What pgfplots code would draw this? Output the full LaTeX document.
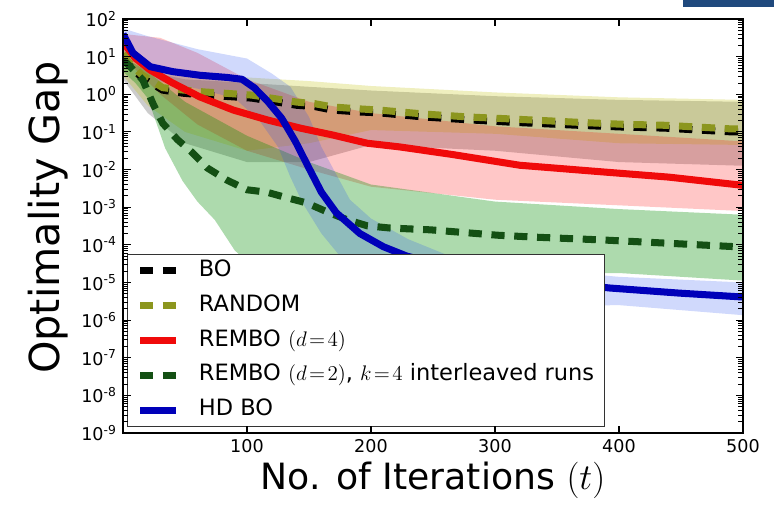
\documentclass[border=0pt]{standalone}
\usepackage{pgfplots}
\pgfplotsset{compat=1.18}
\usepgfplotslibrary{fillbetween}
\usepackage{fontspec}
\setmainfont{DejaVu Sans}
\definecolor{colive}{RGB}{140,150,30}
\definecolor{bolive}{RGB}{191,191,0}
\definecolor{cred}{RGB}{240,10,10}
\definecolor{cgreen}{RGB}{20,80,20}
\definecolor{bgreen}{RGB}{0,140,0}
\definecolor{cblue}{RGB}{0,0,185}
\definecolor{bblue}{RGB}{40,80,240}
\definecolor{slideblue}{RGB}{31,73,125}
\begin{document}
\begin{tikzpicture}
\begin{axis}[
  scale only axis, width=12.4cm, height=8.28cm, at={(0,0)}, anchor=south west,
  xmin=0, xmax=500, ymode=log, ymin=1e-9, ymax=1e2,
  xtick={100,200,300,400,500},
  ytick={1e-9,1e-8,1e-7,1e-6,1e-5,1e-4,1e-3,1e-2,1e-1,1e0,1e1,1e2},
  yticklabels={10\textsuperscript{-9},10\textsuperscript{-8},10\textsuperscript{-7},10\textsuperscript{-6},10\textsuperscript{-5},10\textsuperscript{-4},10\textsuperscript{-3},10\textsuperscript{-2},10\textsuperscript{-1},10\textsuperscript{0},10\textsuperscript{1},10\textsuperscript{2}},
  yminorticks=true,
  tick label style={font=\fontsize{10}{12}\selectfont},
  /pgf/number format/assume math mode=true,
  xlabel={No. of Iterations $(t)$},
  xlabel style={font=\fontsize{20.6}{24}\selectfont, at={(axis description cs:0.5,-0.1135)}, anchor=center},
  ylabel={Optimality Gap},
  ylabel style={font=\fontsize{23.5}{27}\selectfont, at={(axis description cs:-0.121,0.52)}, anchor=center},
  axis line style={line width=0.8pt},
  major tick style={line width=0.6pt, black},
  minor tick style={line width=0.5pt, black},
  axis on top,
  legend style={at={(rel axis cs:0.0065,0.0145)}, anchor=south west,
    font=\fontsize{12.8}{15}\selectfont, draw=black!80, line width=0.8pt,
    inner xsep=5pt, inner ysep=2pt, row sep=5.3pt,
    nodes={inner sep=1pt, text height=9.5pt, text depth=3pt},
    /tikz/every odd column/.append style={column sep=10pt}},
  legend cell align=left,
  legend image code/.code={\draw[#1] (0pt,0pt) -- (20.5pt,0pt);},
]
% ---------- bands ----------
\addplot[name path=bou, draw=none, forget plot] coordinates {(0,15.8)(20,4.0)(50,2.5)(100,2.0)(150,1.58)(200,1.26)(300,0.89)(400,0.71)(500,0.63)};
\addplot[name path=bol, draw=none, forget plot] coordinates {(0,2.5)(20,0.316)(50,0.05)(100,0.0158)(150,0.0158)(200,0.045)(300,0.0316)(400,0.0158)(500,0.0126)};
\addplot[black, fill opacity=0.2, forget plot] fill between[of=bou and bol];
\addplot[name path=rau, draw=none, forget plot] coordinates {(0,20)(20,6.3)(50,3.55)(100,2.8)(150,2.24)(200,1.66)(300,1.12)(400,0.83)(500,0.71)};
\addplot[name path=ral, draw=none, forget plot] coordinates {(0,3.16)(20,0.5)(50,0.1)(100,0.0316)(150,0.05)(200,0.112)(300,0.089)(400,0.05)(500,0.045)};
\addplot[bolive, fill opacity=0.25, forget plot] fill between[of=rau and ral];
\addplot[name path=r4u, draw=none, forget plot] coordinates {(0,40)(30,31.6)(60,12.6)(100,2.5)(150,0.63)(200,0.316)(300,0.141)(400,0.089)(500,0.056)};
\addplot[name path=r4l, draw=none, forget plot] coordinates {(0,10)(30,1)(60,0.158)(100,0.0316)(150,0.01)(200,3.5e-3)(300,1.58e-3)(400,1.12e-3)(500,7.9e-4)};
\addplot[red, fill opacity=0.22, forget plot] fill between[of=r4u and r4l];
\addplot[name path=r2u, draw=none, forget plot] coordinates {(0,10)(20,4.0)(50,0.63)(100,0.079)(150,0.0158)(200,4.0e-3)(300,1.41e-3)(400,8.9e-4)(500,6.3e-4)};
\addplot[name path=r2l, draw=none, forget plot] coordinates {(0,4.0)(10,2.0)(20,0.79)(34,0.037)(48,5.0e-3)(60,1.41e-3)(74,4.6e-4)(90,7.2e-5)(100,3.5e-5)(120,2.0e-5)(250,1.78e-5)(400,1.78e-5)(500,1.12e-5)};
\addplot[bgreen, fill opacity=0.32, forget plot] fill between[of=r2u and r2l];
\addplot[name path=hdu, draw=none, forget plot] coordinates {(0,56)(20,35)(60,15.8)(100,8.9)(120,3.55)(135,1.58)(150,0.25)(160,0.04)(183,1.58e-3)(200,5.0e-4)(230,1.41e-4)(260,5.6e-5)(300,2.8e-5)(400,1.41e-5)(500,1e-5)};
\addplot[name path=hdl, draw=none, forget plot] coordinates {(0,15.8)(30,2.24)(60,1.41)(90,0.79)(110,0.2)(125,0.04)(135,6.3e-3)(145,1.26e-3)(160,2.0e-4)(175,5.0e-5)(200,1e-5)(250,3.2e-6)(300,2.24e-6)(400,2.5e-6)(500,1.35e-6)};
\addplot[bblue, fill opacity=0.22, forget plot] fill between[of=hdu and hdl];
% ---------- lines ----------
\addplot[black, line width=4pt, dash pattern=on 7.5pt off 5.5pt] coordinates {(0,10)(4,6.3)(15,2.8)(32,1.29)(48,1.07)(66,0.95)(85,0.87)(104,0.79)(123,0.63)(140,0.51)(155,0.47)(169,0.38)(190,0.34)(207,0.32)(242,0.25)(278,0.21)(314,0.18)(367,0.15)(402,0.135)(437,0.126)(491,0.1)(500,0.1)};
\addlegendentry{BO}
\addplot[colive, line width=4pt, dash pattern=on 7.5pt off 5.5pt] coordinates {(0,12)(4,7.5)(15,3.3)(32,1.5)(48,1.3)(66,1.15)(85,1.05)(104,0.95)(123,0.76)(140,0.62)(155,0.56)(169,0.46)(190,0.41)(207,0.38)(242,0.3)(278,0.25)(314,0.22)(367,0.18)(402,0.16)(437,0.15)(491,0.12)(500,0.12)};
\addlegendentry{RANDOM}
\addplot[cred, line width=4pt, line join=round] coordinates {(0,25)(3,18)(10,9)(22,4.4)(40,2.0)(62,0.85)(89,0.38)(116,0.21)(143,0.126)(169,0.083)(197,0.05)(223,0.04)(266,0.025)(320,0.013)(386,8.7e-3)(440,6.3e-3)(500,3.8e-3)};
\addlegendentry{REMBO $(d\!=\!4)$}
\addplot[cgreen, line width=4pt, dash pattern=on 7.5pt off 5.5pt] coordinates {(0,7.1)(3,6.8)(16,2.4)(24,0.58)(32,0.17)(44,0.062)(56,0.028)(68,0.011)(84,5.2e-3)(100,2.9e-3)(116,2.5e-3)(129,1.9e-3)(148,1.3e-3)(165,7.4e-4)(181,4.6e-4)(197,3.2e-4)(215,2.8e-4)(248,2.5e-4)(302,1.8e-4)(332,1.6e-4)(386,1.35e-4)(440,1.1e-4)(500,8.7e-5)};
\addlegendentry{REMBO $(d\!=\!2)$, $k\!=\!4$ interleaved runs}
\addplot[cblue, line width=4pt, line join=round] coordinates {(0,40)(8,12.6)(22,5.4)(40,4.0)(62,3.2)(84,2.8)(96,2.5)(106,1.48)(117,0.63)(128,0.23)(139,0.056)(149,0.0126)(160,2.5e-3)(172,7.1e-4)(191,2.0e-4)(210,8.9e-5)(229,5e-5)(260,2.8e-5)(300,1.6e-5)(350,1e-5)(393,7.1e-6)(449,5.2e-6)(500,4.1e-6)};
\addlegendentry{HD BO}
\end{axis}
\path (-2.46,-1.34) rectangle (13.02,8.66);
\fill[slideblue] (11.2,8.52) rectangle (13.02,8.66);
\end{tikzpicture}
\end{document}
